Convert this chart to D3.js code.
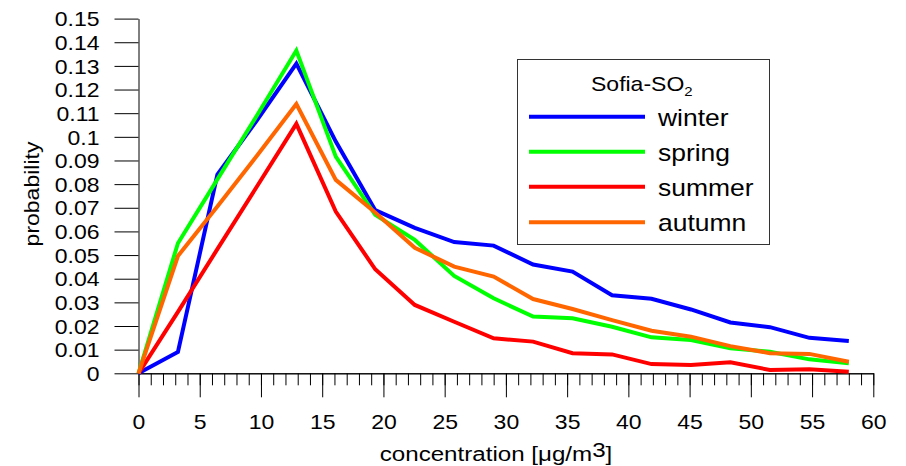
<!DOCTYPE html>
<html>
<head>
<meta charset="utf-8">
<script src="https://cdn.jsdelivr.net/npm/d3@7"></script>
<style>
  html, body { margin: 0; padding: 0; background: #fff; }
  svg { display: block; font-family: "Liberation Sans", Arial, sans-serif; }
</style>
</head>
<body>
<svg width="906" height="466"></svg>
<script>

// concentration bins (µg/m3)
let conc = [0, 3.22, 6.44, 9.67, 12.89, 16.11, 19.33, 22.56, 25.78, 29.0, 32.22, 35.44, 38.67, 41.89, 45.11, 48.33, 51.56, 54.78, 58.0]

let winter = [0, 0.009, 0.084, 0.107, 0.131, 0.098, 0.069, 0.0615, 0.0555, 0.054, 0.046, 0.043, 0.033, 0.0315, 0.027, 0.0215, 0.0195, 0.015, 0.0137]
let spring = [0, 0.055, 0.082, 0.109, 0.1365, 0.0916, 0.067, 0.0564, 0.0412, 0.0317, 0.024, 0.0233, 0.0197, 0.0152, 0.0141, 0.0106, 0.0091, 0.0059, 0.0042]
let summer = [0, 0.026, 0.0525, 0.079, 0.1055, 0.0684, 0.044, 0.0289, 0.0218, 0.0148, 0.0134, 0.0085, 0.008, 0.0039, 0.0035, 0.0047, 0.0014, 0.0017, 0.0007]
let autumn = [0, 0.0496, 0.0705, 0.092, 0.1139, 0.0818, 0.068, 0.0531, 0.0451, 0.0409, 0.0314, 0.0272, 0.0225, 0.018, 0.0155, 0.0115, 0.0085, 0.0082, 0.0049]

let seasons = ['winter', 'spring', 'summer', 'autumn']
let colors = ['#0000ff', '#00ff00', '#ff0000', '#ff6600']

let xMajor = [0, 5, 10, 15, 20, 25, 30, 35, 40, 45, 50, 55, 60]
let xMinor = d3.range(0, 61, 1)
let yTicks = d3.range(0, 16).map(i => i / 100)

let series = [winter, spring, summer, autumn]

let svg = d3.select('svg')
let sx = 1.15  // text in the original is drawn a bit wider

let x = d3.scaleLinear().domain([0, 60]).range([138.5, 873.3])
let y = d3.scaleLinear().domain([0, 0.15]).range([373.3, 18.6])

// y axis
let yAxis = svg.append('g')
  .attr('transform', 'translate(138.5,0)')
  .call(d3.axisLeft(y).tickValues(yTicks).tickSize(24).tickSizeOuter(0)
    .tickFormat(d => String(+d.toFixed(2))))
yAxis.selectAll('text')
  .attr('font-size', 20)
  .attr('font-family', null)
  .attr('fill', '#000')
  .attr('x', -39 / sx)
  .attr('dy', '0.36em')
  .attr('transform', `scale(${sx},1)`)

// x axis minor ticks
svg.append('g')
  .attr('transform', 'translate(0,373.3)')
  .call(d3.axisBottom(x).tickValues(xMinor).tickSize(12).tickSizeOuter(0).tickFormat(''))

// x axis major ticks
let xAxis = svg.append('g')
  .attr('transform', 'translate(0,373.3)')
  .call(d3.axisBottom(x).tickValues(xMajor).tickSize(24).tickSizeOuter(0).tickPadding(18))
xAxis.selectAll('text')
  .attr('font-size', 20)
  .attr('font-family', null)
  .attr('fill', '#000')
  .attr('transform', `scale(${sx},1)`)

svg.selectAll('.domain, .tick line').attr('stroke', '#000')

// series
let line = d3.line()
  .x((d, i) => x(conc[i]))
  .y(d => y(d))

svg.append('g')
  .selectAll('path')
  .data(series)
  .enter().append('path')
  .attr('d', d => line(d))
  .attr('fill', 'none')
  .attr('stroke', (d, i) => colors[i])
  .attr('stroke-width', 4)
  .attr('stroke-linejoin', 'miter')

// axis titles
let yt = svg.append('g').attr('transform', `translate(39,194) rotate(-90) scale(${sx},1)`)
yt.append('text')
  .attr('text-anchor', 'middle')
  .attr('font-size', 20)
  .text('probability')

let xt = svg.append('g').attr('transform', `translate(496,461) scale(${sx},1)`)
let xtText = xt.append('text')
  .attr('text-anchor', 'middle')
  .attr('font-size', 21)
xtText.append('tspan').text('concentration [\u03bcg/m')
xtText.append('tspan').attr('dy', -4.5).text('3')
xtText.append('tspan').attr('dy', 4.5).text(']')

// legend
let legend = svg.append('g')
legend.append('rect')
  .attr('x', 517.5).attr('y', 59.5)
  .attr('width', 252).attr('height', 185)
  .attr('fill', '#fff')
  .attr('stroke', '#333')

let lt = legend.append('g').attr('transform', `translate(591,90.7) scale(${sx},1)`)
let ltText = lt.append('text').attr('font-size', 20)
ltText.append('tspan').text('Sofia-SO')
ltText.append('tspan').attr('dy', 5).attr('font-size', 13).text('2')

let legendY = [116.7, 151.7, 186.7, 222.3]

let items = legend.selectAll('.item')
  .data(seasons)
  .enter().append('g')
  .attr('class', 'item')

items.append('line')
  .attr('x1', 529).attr('x2', 645)
  .attr('y1', (d, i) => legendY[i]).attr('y2', (d, i) => legendY[i])
  .attr('stroke', (d, i) => colors[i])
  .attr('stroke-width', 4)

items.append('g')
  .attr('transform', (d, i) => `translate(658,${legendY[i] + 9}) scale(${sx},1)`)
  .append('text')
  .attr('font-size', 23)
  .text(d => d)

</script>
</body>
</html>
